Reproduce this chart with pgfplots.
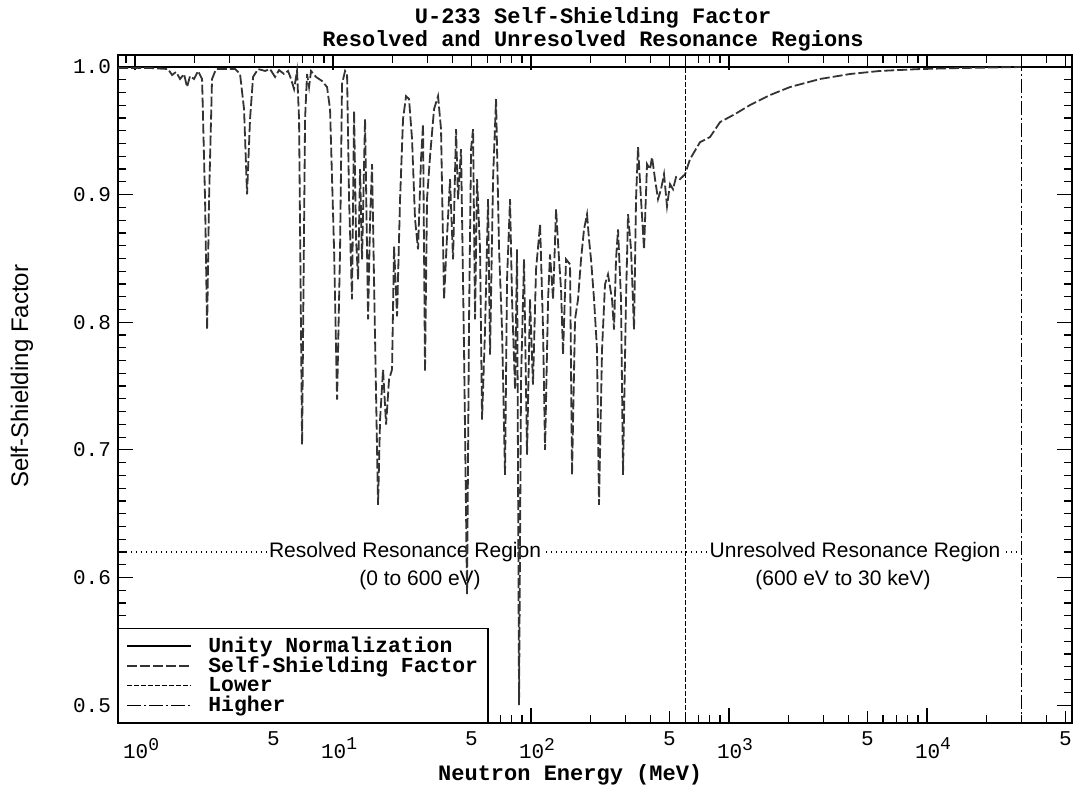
\documentclass[border=0pt]{standalone}
\usepackage{fontspec}
\setmainfont{Liberation Sans}
\setmonofont{Liberation Mono}
\usepackage{pgfplots}
\usepackage{pgfplotstable}
\pgfplotsset{compat=1.18}

\newcommand\mono{\ttfamily\bfseries}
\newcommand\expo[1]{\raisebox{0.8ex}{\fontsize{9}{10}\selectfont#1}}

% U-233 self-shielding factor, resolved (<600 eV) and unresolved region
\pgfplotstableread{
E      f
0.821  0.9992
1.191  0.9992
1.468  0.9984
1.538  0.9937
1.611  0.9961
1.688  0.9906
1.768  0.9945
1.830  0.9843
1.896  0.9929
1.986  0.9906
2.081  0.9969
2.180  0.9906
2.257  0.8964
2.311  0.7943
2.364  0.8964
2.448  0.9906
2.565  0.9984
3.200  0.9984
3.391  0.9945
3.552  0.9670
3.679  0.9003
3.809  0.9592
3.945  0.9922
4.181  0.9984
4.536  0.9969
4.806  0.9984
5.095  0.9922
5.337  0.9976
5.655  0.9945
5.925  0.9969
6.135  0.9906
6.353  0.9827
6.579  0.9969
6.735  0.9592
6.975  0.7041
7.222  0.9592
7.392  0.9945
7.566  0.9843
7.743  0.9969
8.205  0.9922
8.800  0.9890
9.326  0.9843
9.657  0.9670
10.12  0.8571
10.48  0.7394
10.85  0.8571
11.10  0.9867
11.50  0.9969
11.77  0.9945
12.05  0.8964
12.47  0.8179
12.77  0.9655
13.07  0.8650
13.38  0.8336
13.69  0.9200
14.01  0.8493
14.51  0.9592
15.03  0.8022
15.38  0.8800
15.74  0.9239
16.30  0.7865
16.88  0.6570
17.28  0.7237
17.89  0.7630
18.53  0.7198
19.18  0.7551
19.86  0.7630
20.33  0.8595
21.05  0.8046
21.80  0.8964
22.57  0.9592
23.37  0.9772
24.20  0.9749
25.06  0.9435
25.95  0.8807
26.87  0.8571
27.82  0.9278
28.48  0.9553
29.14  0.7614
29.83  0.8964
30.90  0.9301
32.37  0.9670
33.91  0.9772
35.11  0.9513
36.36  0.8179
37.65  0.8673
38.99  0.9121
40.37  0.8493
41.80  0.9513
42.79  0.8964
44.31  0.9356
45.88  0.7786
47.51  0.5863
48.63  0.8022
49.78  0.9356
50.95  0.9513
52.15  0.8022
53.38  0.9121
55.27  0.8571
56.57  0.7237
58.58  0.7943
60.66  0.8964
62.09  0.7747
64.29  0.9121
66.57  0.9749
68.94  0.8571
71.38  0.7943
73.91  0.6805
75.66  0.8336
78.34  0.8964
80.18  0.8179
83.03  0.7473
84.98  0.8571
86.99  0.5000
89.04  0.7551
92.18  0.8493
95.45  0.6962
98.83  0.8179
102.3  0.7512
106.0  0.8414
111.1  0.8768
115.0  0.7943
117.7  0.7000
121.9  0.8179
124.7  0.8532
129.2  0.8179
133.8  0.8885
138.5  0.8493
141.8  0.8257
145.1  0.7747
150.3  0.8493
157.4  0.8454
161.1  0.6805
166.8  0.8022
172.7  0.8179
178.9  0.8493
185.2  0.8728
191.8  0.8846
196.3  0.8650
200.9  0.8493
208.1  0.8179
215.4  0.7786
220.5  0.6570
228.4  0.7786
236.4  0.8297
244.8  0.8375
256.5  0.8179
262.5  0.7943
268.7  0.8493
275.0  0.8728
284.8  0.8179
291.5  0.6805
301.8  0.8179
309.0  0.8846
320.0  0.8571
331.3  0.7943
339.1  0.8964
347.1  0.9372
359.4  0.8964
372.2  0.8571
385.4  0.9239
399.1  0.9199
408.5  0.9294
422.9  0.9121
437.9  0.8964
453.5  0.9042
469.5  0.9160
486.2  0.8909
503.5  0.9082
521.3  0.9042
539.9  0.9137
565.5  0.9121
600    0.9160
635.3  0.9278
713.8  0.9411
801.8  0.9451
900.6  0.9568
1072   0.9631
1277   0.9702
1611   0.9780
2033   0.9843
2881   0.9906
4084   0.9945
5788   0.9969
9218   0.9984
14680  0.9992
23370  0.9997
30000  1.0000
}\ssf

\begin{document}
\begin{tikzpicture}
\begin{axis}[
  xmode=log,
  scale only axis, width=477pt, height=334pt,
  xmin=0.82, xmax=54000,
  ymin=0.486, ymax=1.0094,
  axis line style={line width=0.7pt},
  xtick={1,10,100,1000,10000},
  xticklabels={10\expo{0},10\expo{1},10\expo{2},10\expo{3},10\expo{4}},
  minor xtick={0.9,2,3,4,6,7,8,9,20,30,40,60,70,80,90,200,300,400,600,700,800,900,2000,3000,4000,6000,7000,8000,9000,20000,30000,40000},
  xticklabel style={yshift=-4pt, xshift=3pt},
  extra x ticks={5,50,500,5000,50000},
  extra x tick labels={5,5,5,5,5},
  extra x tick style={major tick length=6pt, xticklabel style={yshift=3pt, xshift=-3pt}},
  ytick={0.5,0.6,0.7,0.8,0.9,1.0},
  yticklabels={0.5,0.6,0.7,0.8,0.9,1.0},
  minor y tick num=9,
  major tick length=7.5pt, minor tick length=4pt,
  tick style={line width=0.6pt, black},
  ticklabel style={font=\fontsize{10.5}{12}\selectfont\ttfamily},
  title={U-233 Self-Shielding Factor\\Resolved and Unresolved Resonance Regions},
  title style={align=center, font=\fontsize{11}{11.5}\selectfont\mono,
               at={(rel axis cs:0.498,1)}, anchor=south, inner sep=0pt, yshift=-4.5pt},
  xlabel={Neutron Energy (MeV)},
  xlabel style={font=\fontsize{11}{12}\selectfont\mono,
                at={(rel axis cs:0.474,0)}, anchor=center, yshift=-26pt},
  legend cell align=left,
  legend style={at={(rel axis cs:0,0)}, anchor=south west, draw=black, line width=0.6pt,
                fill=white, font=\fontsize{10.7}{10.25}\selectfont\mono,
                inner xsep=4pt, inner ysep=3pt, row sep=-1.2pt,
                nodes={inner sep=1pt},
                /tikz/every odd column/.append style={column sep=7pt}},
  legend image code/.code={\draw[#1] (0pt,0pt) -- (32pt,0pt);},
]
\coordinate (bl) at (rel axis cs:0,0);
\coordinate (tr) at (rel axis cs:1,1);
\coordinate (yl) at (rel axis cs:0,0.519);

% region annotations (drawn under the curves)
\addplot[forget plot, black, line width=0.8pt, dash pattern=on 0.8pt off 1.7pt]
  coordinates {(0.8,0.62) (30000,0.62)};
\node[fill=white, inner sep=0.6pt, font=\fontsize{10.5}{12}\selectfont]
  at (axis cs:23.1,0.62) {Resolved Resonance Region};
\node[fill=white, inner sep=0.6pt, font=\fontsize{10.5}{12}\selectfont]
  at (axis cs:27.5,0.598) {(0 to 600 eV)};
\node[fill=white, inner sep=0.6pt, font=\fontsize{10.5}{12}\selectfont]
  at (axis cs:4330,0.62) {Unresolved Resonance Region};
\node[fill=white, inner sep=0.6pt, font=\fontsize{10.5}{12}\selectfont]
  at (axis cs:3766,0.598) {(600 eV to 30 keV)};

\addplot[black, line width=0.6pt] coordinates {(0.8,1) (60000,1)};
\addlegendentry{Unity Normalization}
\addplot[black!80, line width=0.9pt, dash pattern=on 5pt off 1.5pt] table[x=E, y=f] {\ssf};
\addlegendentry{Self-Shielding Factor}
\addplot[black, line width=0.6pt, dash pattern=on 2.5pt off 1pt] coordinates {(600,0.48) (600,1.02)};
\addlegendentry{Lower}
\addplot[black, line width=0.6pt, dash pattern=on 7pt off 1.5pt on 1pt off 1.5pt] coordinates {(30000,0.48) (30000,1.02)};
\addlegendentry{Higher}
\end{axis}
\node[rotate=90, font=\fontsize{12}{13}\selectfont] at ([xshift=-48pt]yl) {Self-Shielding Factor};
\pgfresetboundingbox
\path ([shift={(-59pt,-33pt)}]bl) rectangle ([shift={(1.5pt,27.5pt)}]tr);
\end{tikzpicture}
\end{document}
